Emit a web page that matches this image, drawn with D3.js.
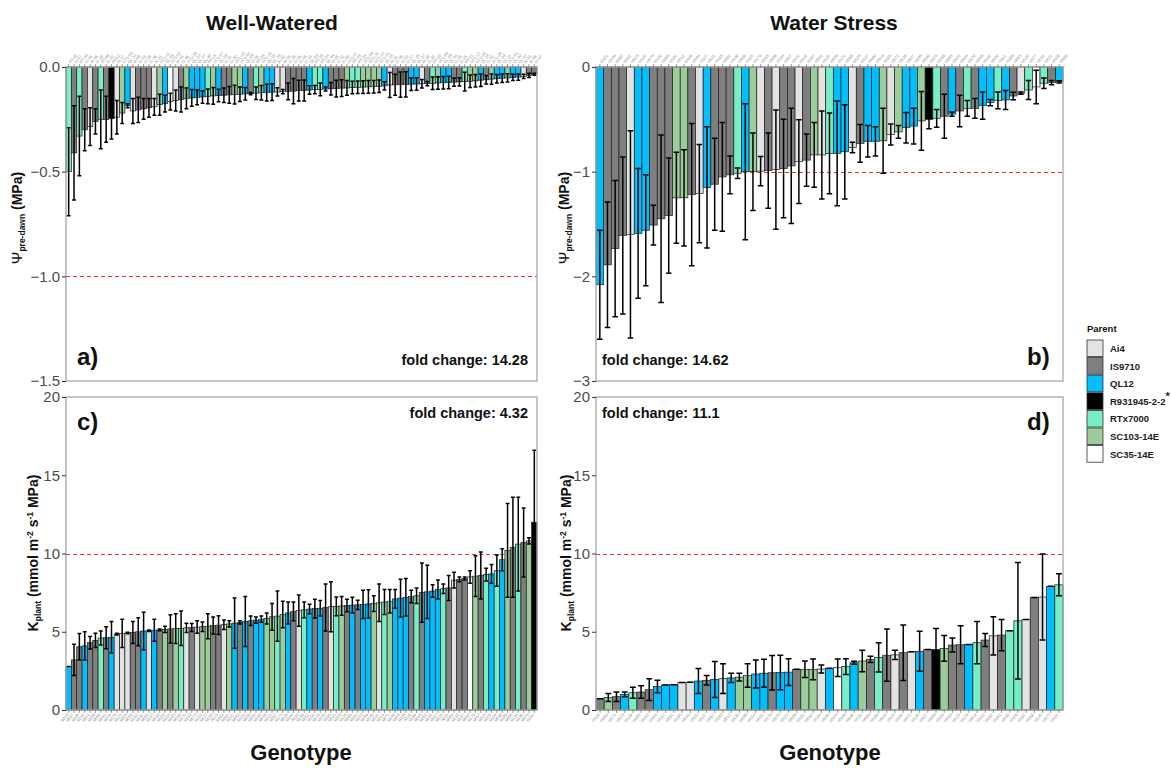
<!DOCTYPE html>
<html>
<head>
<meta charset="utf-8">
<script src="https://cdn.jsdelivr.net/npm/d3@7"></script>
<style>
  body { margin: 0; background: #fff; }
  svg { display: block; font-family: Arial, "Liberation Sans", sans-serif; }
</style>
</head>
<body>
<svg id="chart" width="1171" height="769"></svg>
<script>
// ---- Parent lines and their fill colours ----
const parentNames  = ["Ai4", "IS9710", "QL12", "R931945-2-2", "RTx7000", "SC103-14E", "SC35-14E"];
const parentColors = ["#e3e3e3", "#7f7f7f", "#00bfff", "#000000", "#76eec6", "#9bcd9b", "#ffffff"];
// one-letter parent codes used in the parent strings below
const parentCode = { A: "Ai4", I: "IS9710", Q: "QL12", R: "R931945-2-2", T: "RTx7000", S: "SC103-14E", W: "SC35-14E" };

// ---- a) pre-dawn water potential, well-watered (MPa) ----
const wwPsiGenotypes = ("RT-12 IS-07 RT-33 IS-41 AI-05 IS-19 RT-08 IS-22 R93-2 AI-17 SC1-04 QL-31 AI-09 IS-03 IS-28 IS-36 AI-21 SC1-11 QL-06 SC3-02 " +
  "AI-14 IS-45 SC1-19 QL-12 QL-27 QL-40 RT-15 SC1-07 QL-18 IS-11 IS-30 SC1-23 SC1-02 QL-09 IS-16 RT-24 SC1-15 QL-22 QL-35 AI-02 " +
  "AI-26 IS-39 IS-05 IS-44 IS-13 QL-03 RT-29 RT-04 QL-44 IS-25 IS-32 IS-09 SC1-27 RT-19 RT-36 SC1-09 SC1-31 SC1-13 SC1-21 QL-15 " +
  "AI-11 IS-38 IS-02 IS-27 QL-25 QL-37 AI-30 IS-20 RT-10 SC1-05 QL-29 QL-01 IS-34 IS-15 RT-21 SC1-17 SC1-25 QL-20 IS-43 SC1-29 " +
  "QL-33 QL-11 SC1-01 QL-42 QL-07 AI-23 IS-08 IS-47").split(" ");
const wwPsiParents = "TITIAITIRASQAIIIASQWAISQQQTSQIISSQITSQQAAIIIIQTTQIIISTTSSSSQAIIIQQAITSQQIITSSQISQQSQQAII";
const wwPsiMean = [
  -0.50, -0.41, -0.33, -0.30, -0.285, -0.26, -0.25, -0.25, -0.247, -0.24,
  -0.22, -0.185, -0.21, -0.205, -0.20, -0.195, -0.19, -0.18, -0.175, -0.165,
  -0.16, -0.155, -0.15, -0.148, -0.145, -0.143, -0.14, -0.138, -0.136, -0.135,
  -0.133, -0.132, -0.13, -0.128, -0.127, -0.125, -0.123, -0.122, -0.12, -0.119,
  -0.118, -0.116, -0.115, -0.113, -0.112, -0.11, -0.108, -0.107, -0.105, -0.104,
  -0.103, -0.101, -0.10, -0.098, -0.097, -0.096, -0.095, -0.094, -0.092, -0.09,
  -0.086, -0.085, -0.084, -0.083, -0.082, -0.081, -0.08, -0.079, -0.078, -0.076,
  -0.075, -0.074, -0.072, -0.071, -0.07, -0.068, -0.066, -0.063, -0.061, -0.058,
  -0.056, -0.054, -0.052, -0.05, -0.048, -0.045, -0.04, -0.035];
const wwPsiErr = [
  0.21, 0.225, 0.19, 0.10, 0.09, 0.06, 0.14, 0.11, 0.097, 0.08,
  0.05, 0.01, 0.06, 0.06, 0.05, 0.045, 0.04, 0.05, 0.04, 0.04,
  0.05, 0.06, 0.05, 0.04, 0.035, 0.03, 0.035, 0.04, 0.03, 0.035,
  0.04, 0.045, 0.035, 0.03, 0.005, 0.03, 0.035, 0.04, 0.04, 0.02,
  0.01, 0.04, 0.06, 0.05, 0.05, 0.02, 0.02, 0.03, 0.01, 0.03,
  0.04, 0.04, 0.035, 0.03, 0.03, 0.03, 0.03, 0.03, 0.03, 0.02,
  0.06, 0.05, 0.06, 0.06, 0.03, 0.03, 0.02, 0.01, 0.03, 0.03,
  0.03, 0.03, 0.02, 0.02, 0.045, 0.03, 0.03, 0.03, 0.02, 0.025,
  0.02, 0.02, 0.02, 0.015, 0.015, 0.01, 0.01, 0.005];

// ---- b) pre-dawn water potential, water stress (MPa) ----
const wsPsiGenotypes = ("W101 W144 W087 W162 W023 W118 W075 W139 W056 W191 W012 W168 W094 W127 W031 W183 W062 W149 W008 W115 " +
  "W176 W043 W098 W154 W067 W132 W019 W187 W081 W110 W036 W171 W058 W123 W147 W090 W014 W165 W072 W136 " +
  "W027 W195 W049 W103 W158 W085 W121 W004 W179 W066 W142 W039 W112 W186 W053 W130 W077 W161 W021 W108 W096").split(" ");
const wsPsiParents = "QIIIAQQIIISSIAQIIITQSAIAIIAISATQQAIQQSASQQSRTIQITIQQTQIATWTIQ";
const wsPsiMean = [
  -2.08, -1.89, -1.735, -1.61, -1.60, -1.59, -1.56, -1.51, -1.45, -1.42,
  -1.25, -1.25, -1.22, -1.21, -1.15, -1.12, -1.05, -1.03, -1.015, -1.0,
  -1.0, -0.995, -0.99, -0.98, -0.97, -0.945, -0.905, -0.89, -0.84, -0.84,
  -0.825, -0.825, -0.81, -0.77, -0.73, -0.71, -0.71, -0.705, -0.645, -0.62,
  -0.58, -0.565, -0.515, -0.50, -0.49, -0.47, -0.45, -0.42, -0.395, -0.395,
  -0.37, -0.34, -0.32, -0.315, -0.277, -0.25, -0.22, -0.19, -0.155, -0.15, -0.142];
const wsPsiErr = [
  0.52, 0.6, 0.65, 0.75, 0.99, 0.62, 0.53, 0.19, 0.8, 0.55,
  0.435, 0.46, 0.68, 0.47, 0.58, 0.44, 0.52, 0.18, 0.05, 0.65,
  0.37, 0.14, 0.36, 0.57, 0.47, 0.55, 0.40, 0.25, 0.31, 0.42,
  0.385, 0.5, 0.45, 0.05, 0.18, 0.15, 0.14, 0.31, 0.10, 0.06,
  0.145, 0.17, 0.28, 0.09, 0.085, 0.21, 0.02, 0.15, 0.075, 0.095,
  0.13, 0.03, 0.08, 0.09, 0.035, 0.01, 0.09, 0.16, 0.05, 0.02, 0.01];

// ---- c) whole-plant conductance, well-watered (mmol m-2 s-1 MPa) ----
const wwKGenotypes = ("N214 N067 N145 N230 N012 N188 N099 N251 N034 N176 N123 N205 N058 N162 N241 N081 N137 N019 N226 N104 " +
  "N193 N046 N170 N219 N073 N152 N027 N238 N115 N184 N061 N247 N092 N131 N009 N200 N156 N038 N221 N087 " +
  "N173 N015 N244 N110 N196 N052 N139 N233 N078 N165 N021 N208 N126 N055 N181 N243 N096 N148 N031 N215 " +
  "N071 N159 N005 N228 N119 N186 N043 N252 N102 N167 N025 N211 N084 N142 N237 N064 N179 N017 N224 N108 " +
  "N154 N049 N199 N090 N134 N240 N076 N161").split(" ");
const wwKParents = "QIIQIITIQAAAIIQAQISISTAIASSIIASQIQIQQSSTSQIATQIQIATSIQIQQSATSQQQITIQQQTIAIIWSITQTQSITISR";
const wwKMean = [
  2.78, 3.2, 4.04, 4.1, 4.3, 4.45, 4.6, 4.62, 4.65, 4.85,
  4.9, 4.92, 4.95, 5.0, 5.05, 5.06, 5.1, 5.12, 5.15, 5.18,
  5.2, 5.22, 5.25, 5.27, 5.3, 5.32, 5.35, 5.4, 5.42, 5.45,
  5.5, 5.55, 5.6, 5.65, 5.7, 5.75, 5.8, 5.85, 5.95, 6.0,
  6.1, 6.2, 6.3, 6.35, 6.4, 6.45, 6.48, 6.5, 6.55, 6.6,
  6.62, 6.65, 6.68, 6.7, 6.72, 6.75, 6.78, 6.8, 6.85, 6.9,
  6.95, 7.1, 7.15, 7.2, 7.25, 7.3, 7.5, 7.55, 7.6, 7.7,
  7.75, 7.8, 8.3, 8.35, 8.4, 8.5, 8.55, 8.6, 8.65, 8.7,
  8.9, 9.6, 10.2, 10.4, 10.6, 10.7, 10.8, 12.0];
const wwKErr = [
  0, 1.0, 0.85, 0.9, 0.4, 0.45, 0.45, 0.7, 1.0, 0.05,
  0.9, 0.05, 0.7, 0.9, 1.2, 0.05, 0.7, 0.05, 0.2, 0.9,
  0.95, 1.1, 0.3, 0.25, 0.4, 0.3, 0.8, 0.55, 0.6, 0.3,
  0.2, 1.6, 0.1, 1.6, 0.3, 0.2, 0.2, 0.35, 0.85, 1.6,
  0.85, 0.7, 0.6, 1.0, 0.5, 0.3, 0.6, 0.5, 1.5, 1.6,
  0.6, 0.6, 0.4, 0.5, 0.3, 0.9, 0.9, 0.5, 1.2, 0.8,
  0.75, 0.6, 1.2, 1.2, 0.4, 0.5, 1.9, 1.7, 0.4, 0.6,
  0.3, 0.8, 0.5, 0.15, 0.1, 0.4, 1.3, 1.5, 0.4, 0.6,
  1.0, 0.7, 3.0, 3.2, 3.0, 2.2, 0.2, 4.6];

// ---- d) whole-plant conductance, water stress (mmol m-2 s-1 MPa) ----
const wsKGenotypes = ("W118 W056 W171 W023 W139 W090 W162 W004 W127 W081 W195 W043 W110 W147 W067 W183 W012 W136 W098 W154 " +
  "W031 W176 W075 W121 W008 W191 W062 W144 W036 W103 W168 W049 W132 W085 W158 W019 W115 W186 W072 W149 " +
  "W027 W096 W165 W053 W123 W179 W014 W142 W087 W161 W039 W108 W187 W058 W130 W077 W101").split(" ");
const wsKParents = "ISIQTIIQQQAAQIQAQSSQQIQQISSAQWTQSITIAIAQIRSIIQTIAITTAIAQT";
const wsKMean = [
  0.72, 0.80, 0.85, 1.0, 1.1, 1.15, 1.3, 1.5, 1.6, 1.62,
  1.75, 1.78, 1.85, 1.9, 1.95, 2.0, 2.05, 2.1, 2.2, 2.3,
  2.35, 2.38, 2.4, 2.42, 2.6, 2.6, 2.6, 2.62, 2.66, 2.7,
  2.77, 3.02, 3.13, 3.24, 3.36, 3.5, 3.52, 3.66, 3.72, 3.75,
  3.87, 3.87, 3.94, 4.15, 4.17, 4.19, 4.3, 4.47, 4.74, 4.79,
  5.06, 5.7, 5.78, 7.19, 7.22, 7.9, 8.0];
const wsKErr = [
  0, 0.25, 0.3, 0.15, 0.35, 0.4, 0.7, 0.4, 0, 0,
  0, 0, 0.8, 0.3, 1.15, 0.95, 0.3, 0.25, 0.75, 0.9,
  0.9, 1.1, 1.1, 0.85, 0, 0.53, 0.66, 0.25, 0, 0.56,
  0.5, 0.1, 0.69, 0.2, 0.93, 1.67, 0.3, 1.77, 0, 1.28,
  0, 1.34, 0.82, 0.45, 1.21, 0, 1.35, 0.42, 1.22, 1.0,
  0, 3.72, 0, 0, 2.75, 0, 0.7];

// ---- axis ticks and annotations ----
const psiWWTicks = [0, -0.5, -1.0, -1.5];
const psiWSTicks = [0, -1, -2, -3];
const kTicks = [0, 5, 10, 15, 20];
const foldLabels = ["fold change: 14.28", "fold change: 14.62", "fold change: 4.32", "fold change: 11.1"];
const panelTags = ["a)", "b)", "c)", "d)"];

const svg = d3.select("#chart");
const fillOf = d3.scaleOrdinal().domain(parentNames).range(parentColors);

const panels = [
  { genotypes: wwPsiGenotypes, parents: wwPsiParents, mean: wwPsiMean, err: wwPsiErr,
    x0: 66, x1: 537, y0: 67, y1: 381, domain: [-1.5, 0], ticks: psiWWTicks, fmt: d3.format(".1f"),
    ref: -1, xTop: true, fold: foldLabels[0], foldAt: "right-bottom", tag: panelTags[0], tagAt: "left-bottom" },
  { genotypes: wsPsiGenotypes, parents: wsPsiParents, mean: wsPsiMean, err: wsPsiErr,
    x0: 596, x1: 1063, y0: 67, y1: 381, domain: [-3, 0], ticks: psiWSTicks, fmt: d3.format("d"),
    ref: -1, xTop: true, fold: foldLabels[1], foldAt: "left-bottom", tag: panelTags[1], tagAt: "right-bottom" },
  { genotypes: wwKGenotypes, parents: wwKParents, mean: wwKMean, err: wwKErr,
    x0: 66, x1: 537, y0: 397, y1: 710, domain: [0, 20], ticks: kTicks, fmt: d3.format("d"),
    ref: 10, xTop: false, fold: foldLabels[2], foldAt: "right-top", tag: panelTags[2], tagAt: "left-top" },
  { genotypes: wsKGenotypes, parents: wsKParents, mean: wsKMean, err: wsKErr,
    x0: 596, x1: 1063, y0: 397, y1: 710, domain: [0, 20], ticks: kTicks, fmt: d3.format("d"),
    ref: 10, xTop: false, fold: foldLabels[3], foldAt: "left-top", tag: panelTags[3], tagAt: "right-top" }
];

function drawPanel(p) {
  const data = p.genotypes.map((name, i) => ({
    key: String(i), name, parent: parentCode[p.parents[i]], mean: p.mean[i], err: p.err[i]
  }));
  const x = d3.scaleBand().domain(data.map(d => d.key)).range([p.x0, p.x1]).padding(0);
  const y = d3.scaleLinear().domain(p.domain).range([p.y1, p.y0]);
  const bw = x.bandwidth();
  const g = svg.append("g");

  // reference line (behind the bars), snapped to the pixel grid so it stays red
  const yRef = Math.round(y(p.ref)) + 0.5;
  g.append("line")
    .attr("x1", p.x0).attr("x2", p.x1)
    .attr("y1", yRef).attr("y2", yRef)
    .attr("stroke", "#e8332d").attr("stroke-width", 1).attr("stroke-dasharray", "4,3")
    .attr("shape-rendering", "crispEdges");

  // bars
  g.append("g").selectAll("rect").data(data).join("rect")
    .attr("x", d => x(d.key))
    .attr("width", bw)
    .attr("y", d => Math.min(y(0), y(d.mean)))
    .attr("height", d => Math.abs(y(d.mean) - y(0)))
    .attr("fill", d => fillOf(d.parent))
    .attr("stroke", "#1e1e1e").attr("stroke-width", 0.7);

  // error bars (mean ± error) with caps
  const cap = bw * 0.36;
  g.append("g").selectAll("path").data(data).join("path")
    .attr("d", d => {
      const cx = x(d.key) + bw / 2;
      const lo = y(d.mean - d.err), hi = y(d.mean + d.err);
      return `M${cx},${lo}V${hi}M${cx - cap},${lo}h${2 * cap}M${cx - cap},${hi}h${2 * cap}`;
    })
    .attr("fill", "none").attr("stroke", "#000").attr("stroke-width", 1.5);

  // panel border
  g.append("rect")
    .attr("x", p.x0).attr("y", p.y0)
    .attr("width", p.x1 - p.x0).attr("height", p.y1 - p.y0)
    .attr("fill", "none").attr("stroke", "#a6a6a6").attr("stroke-width", 1.3);

  // y axis
  const ya = g.append("g").attr("transform", `translate(${p.x0},0)`)
    .call(d3.axisLeft(y).tickValues(p.ticks).tickFormat(p.fmt).tickSize(4).tickPadding(2));
  ya.select(".domain").remove();
  ya.selectAll(".tick line").attr("stroke", "#333");
  ya.selectAll(".tick text").attr("font-size", 15).attr("fill", "#4d4d4d")
    .attr("font-family", "Arial, 'Liberation Sans', sans-serif");

  // genotype axis (tiny rotated names)
  const xAxis = (p.xTop ? d3.axisTop(x) : d3.axisBottom(x))
    .tickFormat(k => data[+k].name).tickSize(3).tickPadding(1);
  const xa = g.append("g").attr("transform", `translate(0,${p.xTop ? p.y0 : p.y1})`).call(xAxis);
  xa.select(".domain").remove();
  xa.selectAll(".tick line").attr("stroke", "#555").attr("stroke-width", 0.6);
  xa.selectAll(".tick text")
    .attr("font-size", 4).attr("fill", "#8a8a8a")
    .attr("font-family", "Arial, 'Liberation Sans', sans-serif")
    .attr("text-anchor", p.xTop ? "start" : "end")
    .attr("transform", p.xTop ? "translate(1,-4) rotate(-50)" : "translate(-1,4) rotate(-50)")
    .attr("x", 0).attr("y", 0).attr("dy", "0.3em");

  // fold change annotation
  const foldRight = p.foldAt.startsWith("right");
  const foldTop = p.foldAt.endsWith("top");
  g.append("text")
    .attr("x", foldRight ? p.x1 - 9 : p.x0 + 6)
    .attr("y", foldTop ? p.y0 + 21 : p.y1 - 16)
    .attr("text-anchor", foldRight ? "end" : "start")
    .attr("font-size", 14.5).attr("font-weight", "bold").attr("fill", "#111")
    .text(p.fold);

  // panel tag
  const tagRight = p.tagAt.startsWith("right");
  const tagTop = p.tagAt.endsWith("top");
  g.append("text")
    .attr("x", tagRight ? p.x1 - 36 : p.x0 + 11)
    .attr("y", tagTop ? p.y0 + 33 : p.y1 - 16)
    .attr("font-size", 24).attr("font-weight", "bold").attr("fill", "#111")
    .text(p.tag);
}

panels.forEach(drawPanel);

// ---- column titles ----
svg.append("text").attr("x", 272).attr("y", 30).attr("text-anchor", "middle")
  .attr("font-size", 21).attr("font-weight", "bold").attr("fill", "#111").text("Well-Watered");
svg.append("text").attr("x", 834).attr("y", 30).attr("text-anchor", "middle")
  .attr("font-size", 21).attr("font-weight", "bold").attr("fill", "#111").text("Water Stress");

// ---- x titles ----
[301, 830].forEach(cx => {
  svg.append("text").attr("x", cx).attr("y", 760).attr("text-anchor", "middle")
    .attr("font-size", 22).attr("font-weight", "bold").attr("fill", "#111").text("Genotype");
});

// ---- y titles ----
function psiTitle(x, yc) {
  const t = svg.append("text").attr("transform", `translate(${x},${yc}) rotate(-90)`)
    .attr("text-anchor", "middle").attr("fill", "#111");
  t.append("tspan").attr("font-size", 15).text("Ψ");
  t.append("tspan").attr("font-size", 8.5).attr("font-weight", "bold").attr("dy", 3).text("pre-dawn");
  t.append("tspan").attr("font-size", 14).attr("font-weight", "bold").attr("dy", -3).text("\u00a0(MPa)");
}
function kTitle(x, yc) {
  const t = svg.append("text").attr("transform", `translate(${x},${yc}) rotate(-90)`)
    .attr("text-anchor", "middle").attr("fill", "#111").attr("font-weight", "bold");
  t.append("tspan").attr("font-size", 14).text("K");
  t.append("tspan").attr("font-size", 8.5).attr("dy", 3).text("plant");
  t.append("tspan").attr("font-size", 14).attr("dy", -3).text("\u00a0(mmol m");
  t.append("tspan").attr("font-size", 8.5).attr("dy", -5).text("-2");
  t.append("tspan").attr("font-size", 14).attr("dy", 5).text("\u00a0s");
  t.append("tspan").attr("font-size", 8.5).attr("dy", -5).text("-1");
  t.append("tspan").attr("font-size", 14).attr("dy", 5).text("\u00a0MPa)");
}
psiTitle(22, 218);
psiTitle(569, 218);
kTitle(38, 553);
kTitle(571, 553);

// ---- legend ----
const lg = svg.append("g").attr("transform", "translate(1087,0)");
lg.append("text").attr("x", 0).attr("y", 332).attr("font-size", 9.5).attr("font-weight", "bold")
  .attr("fill", "#111").text("Parent");
const item = lg.selectAll("g.item").data(parentNames).join("g")
  .attr("transform", (d, i) => `translate(0,${340 + i * 17.6})`);
item.append("rect").attr("width", 16).attr("height", 16.6)
  .attr("fill", d => fillOf(d)).attr("stroke", "#333").attr("stroke-width", 0.8);
const itemText = item.append("text").attr("x", 23).attr("y", 12)
  .attr("font-size", 9.5).attr("font-weight", "bold").attr("fill", "#222")
  .text(d => d);
itemText.filter(d => d === "R931945-2-2")
  .append("tspan").attr("dy", -5).attr("font-size", 11).text("*");
</script>
</body>
</html>
